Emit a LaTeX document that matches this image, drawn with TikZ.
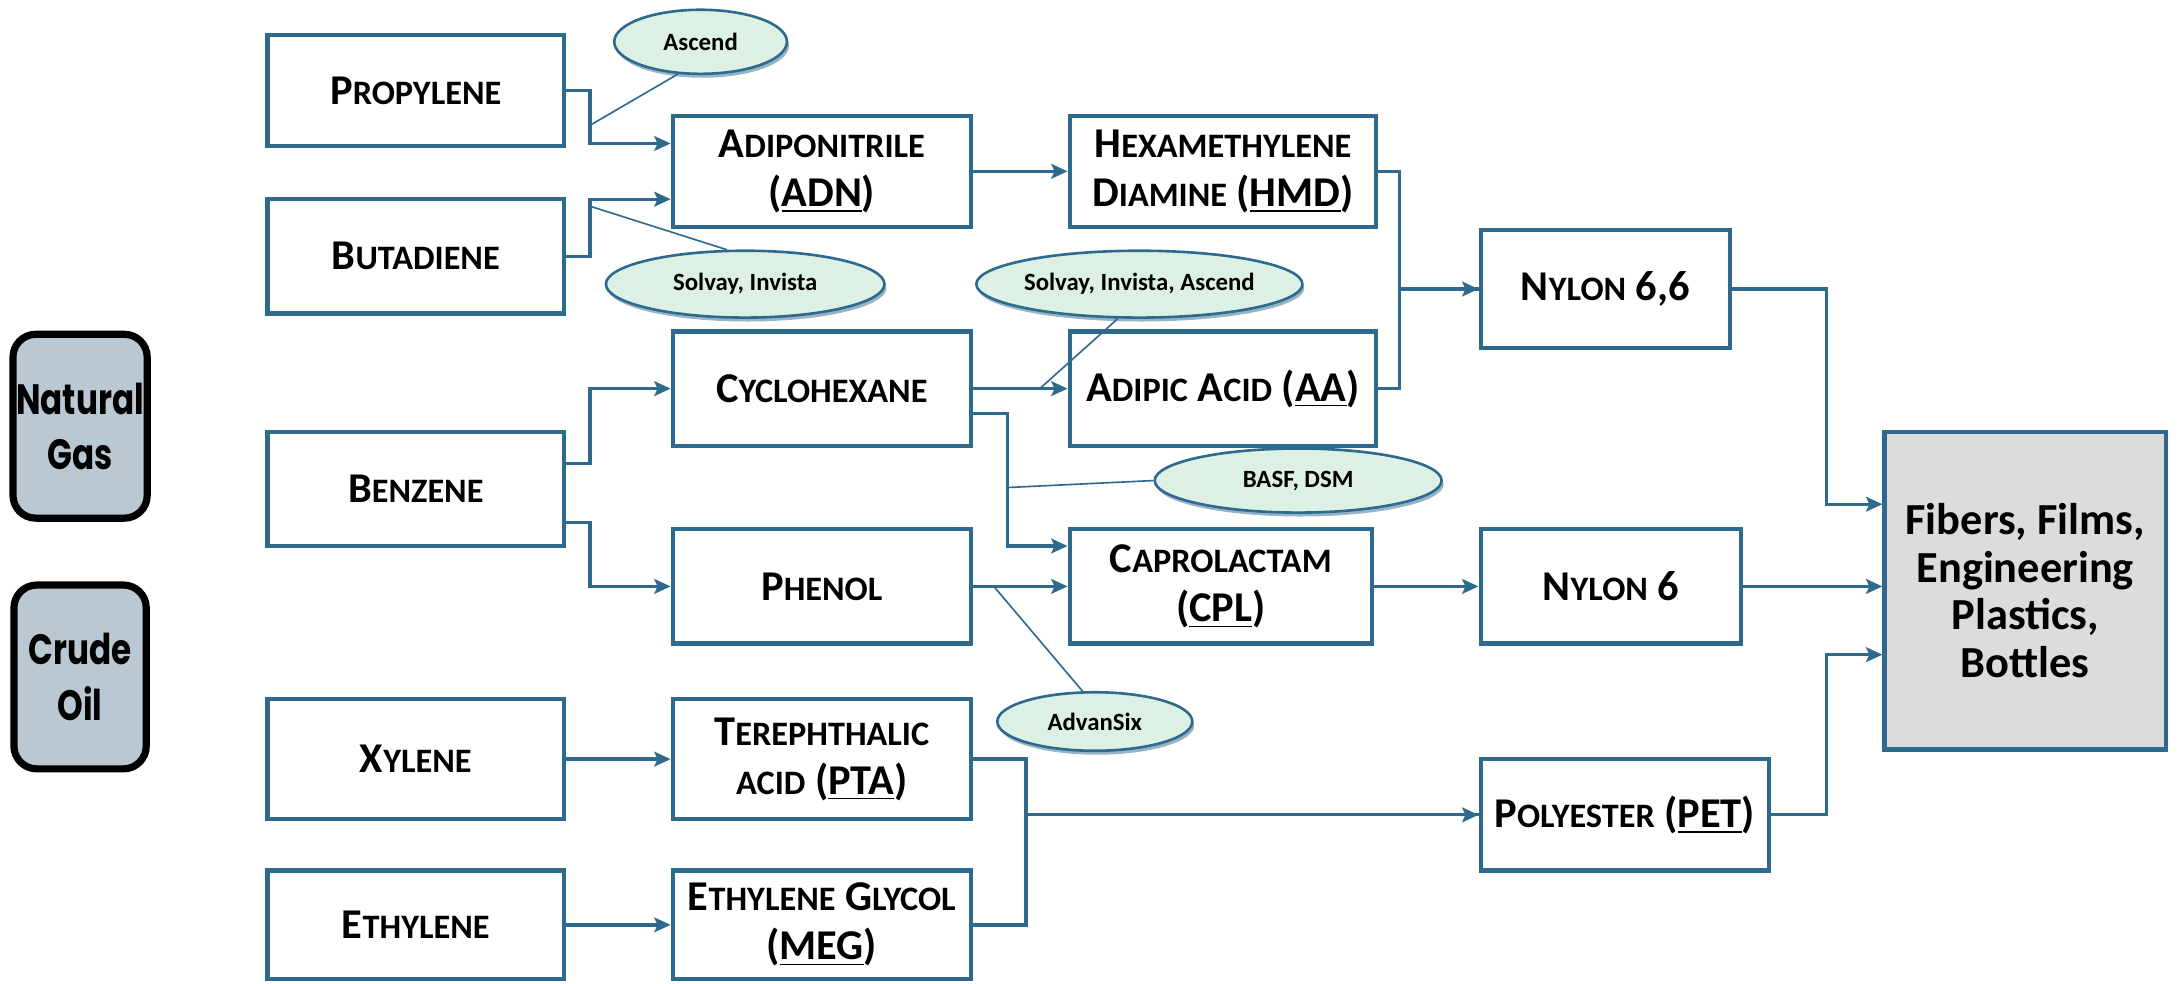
\documentclass[tikz,border=0pt]{standalone}
\usepackage{fontspec}
\setmainfont{Carlito}
\newfontfamily\comicfont{Poppins}
\usetikzlibrary{arrows.meta,calc,shapes.geometric,shadows}
\definecolor{ln}{HTML}{2E6A8E}
\definecolor{ellfill}{HTML}{DDF0E4}
\definecolor{srcfill}{HTML}{B9C8D2}
\definecolor{outfill}{HTML}{DCDCDC}
\newcommand\Bg{\fontsize{13}{15}\selectfont}
\newcommand\sm[1]{{\fontsize{10.5}{15}\selectfont #1}}
\begin{document}
\begin{tikzpicture}[x=0.015cm,y=-0.015cm,
  rect/.style n args={4}{at={({(#1+#3)/2},{(#2+#4)/2})},
     minimum width={(#3-#1)*0.015cm}, minimum height={(#4-#2)*0.015cm}},
  box/.style={draw=ln, line width=1.3pt, fill=white, inner sep=1pt,
     font=\bfseries\Bg, align=center, text=black},
  srcbox/.style={draw=black, line width=2.2pt, fill=srcfill, rounded corners=7pt,
     inner sep=1pt, align=center, font=\comicfont\bfseries\fontsize{10}{15}\selectfont},
  outbox/.style={box, fill=outfill, font=\bfseries\fontsize{13.6}{14.6}\selectfont},
  ell/.style n args={4}{ellipse, draw=ln, line width=0.8pt, fill=ellfill, inner sep=0pt,
     at={(#1,#2)}, minimum width={2*#3*0.015cm}, minimum height={2*#4*0.015cm},
     font=\bfseries\fontsize{7.6}{9}\selectfont,
     drop shadow={shadow xshift=0.6pt, shadow yshift=-1.2pt, fill=ln, opacity=0.5}},
  conn/.style={draw=ln, line width=1pt, -{Stealth[length=5pt,width=4.5pt,inset=1pt]}},
  line/.style={draw=ln, line width=1pt},
  call/.style={draw=ln, line width=0.5pt}
]
\useasboundingbox (0,0) rectangle (1568,706);

% source boxes
\node[srcbox, rect={10}{240}{105}{372}] (ng) {\scalebox{1}[1.3]{Natural}\\[2pt]\scalebox{1}[1.3]{Gas}};
\node[srcbox, rect={10}{420}{105}{552}] (co) {\scalebox{1}[1.3]{Crude}\\[2pt]\scalebox{1}[1.3]{Oil}};

% boxes
\node[box, rect={192}{25}{405}{105}] (prop) {P\sm{ROPYLENE}};
\node[box, rect={192}{143}{405}{225}] (buta) {B\sm{UTADIENE}};
\node[box, rect={483}{83}{697}{163}] (adn) {A\sm{DIPONITRILE}\\(\underline{ADN})};
\node[box, rect={768}{83}{988}{163}] (hmd) {H\sm{EXAMETHYLENE}\\D\sm{IAMINE} (\underline{HMD})};
\node[box, rect={1063}{165}{1242}{250}] (ny66) {N\sm{YLON} 6,6};
\node[box, rect={483}{238}{697}{320}] (cyc) {C\sm{YCLOHEXANE}};
\node[box, rect={768}{238}{988}{320}] (aa) {A\sm{DIPIC} A\sm{CID} (\underline{AA})};
\node[box, rect={192}{310}{405}{392}] (benz) {B\sm{ENZENE}};
\node[box, rect={483}{380}{697}{462}] (phen) {P\sm{HENOL}};
\node[box, rect={768}{380}{985}{462}] (cpl) {C\sm{APROLACTAM}\\(\underline{CPL})};
\node[box, rect={1063}{380}{1250}{462}] (ny6) {N\sm{YLON} 6};
\node[outbox, rect={1353}{310}{1555}{538}] (fib) {Fibers, Films,\\Engineering\\Plastics,\\Bottles};
\node[box, rect={192}{502}{405}{588}] (xyl) {X\sm{YLENE}};
\node[box, rect={483}{502}{697}{588}] (pta) {T\sm{EREPHTHALIC}\\\sm{ACID} (\underline{PTA})};
\node[box, rect={1063}{545}{1270}{625}] (pet) {P\sm{OLYESTER} (\underline{PET})};
\node[box, rect={192}{625}{405}{703}] (eth) {E\sm{THYLENE}};
\node[box, rect={483}{625}{697}{703}] (meg) {E\sm{THYLENE} G\sm{LYCOL}\\(\underline{MEG})};

% ellipses
\node[ell={503}{30}{62}{23}] (asc) {Ascend};
\node[ell={535}{204}{100}{24}] (si) {Solvay, Invista};
\node[ell={818}{204}{105}{24}] (sia) {Solvay, Invista, Ascend};
\node[ell={932}{345}{103}{23}] (basf) {BASF, DSM};
\node[ell={786}{518}{70}{21}] (adv) {AdvanSix};

% connectors
\draw[conn] (prop.east) -- ++(17,0) |- ($(adn.west)+(0,-20)$);
\draw[conn] (buta.east) -- ++(17,0) |- ($(adn.west)+(0,20)$);
\draw[conn] (adn) -- (hmd);
\draw[conn] (hmd.east) -- ++(15,0) |- (ny66.west);
\draw[line] (aa.east) -- ++(15,0) |- (ny66.west);
\draw[conn] ($(benz.east)+(0,-18)$) -- ++(17,0) |- (cyc.west);
\draw[conn] ($(benz.east)+(0,24)$) -- ++(17,0) |- (phen.west);
\draw[conn] (cyc) -- (aa);
\draw[conn] ($(cyc.east)+(0,18)$) -- ++(25,0) |- ($(cpl.west)+(0,-29)$);
\draw[conn] (phen) -- (cpl);
\draw[conn] (cpl) -- (ny6);
\draw[conn] (ny66.east) -- ++(68,0) |- ($(fib.west)+(0,-62)$);
\draw[conn] (ny6.east) -- (ny6.east -| fib.west);
\draw[conn] (pet.east) -- ++(40,0) |- ($(fib.west)+(0,46)$);
\draw[conn] (xyl) -- (pta);
\draw[conn] (eth) -- (meg);
\draw[conn] (pta.east) -- ++(38,0) |- (pet.west);
\draw[line] (meg.east) -- ++(38,0) |- (pet.west);

% callouts
\draw[call] ($(prop.east)+(17,25)$) -- (asc.235);
\draw[call] ($(buta.east)+(17,-36)$) -- (si.118);
\draw[call] ($(cyc.east)+(48,0)$) -- (sia.238);
\draw[call] ($(cyc.east)+(25,71)$) -- (basf.west);
\draw[call] ($(phen.east)+(15,0)$) -- (adv.112);
\end{tikzpicture}
\end{document}
